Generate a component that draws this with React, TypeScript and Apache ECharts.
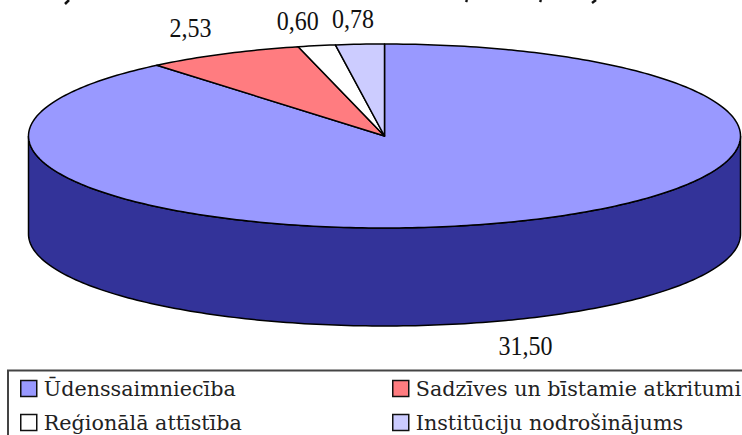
import React, { useEffect, useRef } from "react";
import * as echarts from "echarts";

const categories = ["Ūdenssaimniecība", "Sadzīves un bīstamie atkritumi", "Reģionālā attīstība", "Institūciju nodrošinājums"];
const values = [31.5, 2.53, 0.6, 0.78];
const topColors = ["#9999FF", "#FF7C80", "#FFFFFF", "#CCCCFF"];
const sideColors = ["#333399", "#993333", "#999999", "#666699"];

const CX = 384.5, CY = 136, RX = 356, RY = 92, DEPTH = 98;
const labelOffsets = [[20, 25], [-33, -26], [-19, -25], [-7, -25]];
const legendSpots = [[20, 378], [392, 378], [20, 412], [392, 412]];

const total = values.reduce((a, b) => a + b, 0);
const starts = values.map((_, i) => values.slice(0, i).reduce((a, b) => a + b, 0) / total * 360);

const pt = (deg: number, dy = 0) => {
  const r = (deg * Math.PI) / 180;
  return [CX + RX * Math.sin(r), CY - RY * Math.cos(r) + dy];
};
const arc = (a: number, b: number, dy = 0) => {
  const out: number[][] = [];
  const n = Math.max(2, Math.ceil(Math.abs(b - a)));
  for (let k = 0; k <= n; k++) out.push(pt(a + ((b - a) * k) / n, dy));
  return out;
};

const makeRender = (i: number) => (_p: any, api: any) => {
  const v = api.value(0);
  const a0 = starts[i];
  const a1 = a0 + (v / total) * 360;
  const children: any[] = [];
  const s0 = Math.max(a0, 90), s1 = Math.min(a1, 270);
  if (s1 > s0) {
    children.push({
      type: "polygon",
      shape: { points: [...arc(s0, s1), ...arc(s1, s0, DEPTH)] },
      style: { fill: sideColors[i], stroke: "#000", lineWidth: 1.5 },
    });
  }
  children.push({
    type: "polygon",
    shape: { points: [[CX, CY], ...arc(a0, a1)] },
    style: { fill: topColors[i], stroke: "#000", lineWidth: 1.5, lineJoin: "round" },
  });
  const mid = (a0 + a1) / 2;
  const [mx, my] = pt(mid, mid > 90 && mid < 270 ? DEPTH : 0);
  children.push({
    type: "text",
    x: mx + labelOffsets[i][0],
    y: my + labelOffsets[i][1],
    scaleY: 1.14,
    style: {
      text: v.toFixed(2).replace(".", ","),
      x: 0,
      y: 0,
      fill: "#111",
      fontFamily: "Liberation Serif",
      fontSize: 24,
      textAlign: "center",
      textVerticalAlign: "middle",
    },
  });
  return { type: "group", children };
};

export default function App() {
  const ref = useRef<HTMLDivElement>(null);
  useEffect(() => {
    document.body.style.margin = "0";
    const chart = echarts.init(ref.current!, undefined, { renderer: "svg" });
    chart.setOption({
      animation: false,
      backgroundColor: "#fff",
      legend: categories.map((name, i) => ({
        show: true,
        left: legendSpots[i][0],
        top: legendSpots[i][1],
        padding: 0,
        itemWidth: 16,
        itemHeight: 16,
        selectedMode: false,
        data: [{ name, icon: "rect", itemStyle: { color: topColors[i], borderColor: "#111", borderWidth: 1.5 } }],
        textStyle: { fontFamily: "DejaVu Serif", fontSize: 20.7, color: "#222", padding: [0, 0, 0, 2] },
      })),
      series: categories.map((name, i) => ({
        type: "custom",
        name,
        coordinateSystem: "none",
        clip: false,
        silent: true,
        itemStyle: { color: topColors[i] },
        renderItem: makeRender(i),
        data: [[values[i]]],
      })),
      graphic: [
        {
          type: "polyline",
          shape: { points: [[8, 435], [8, 370.5], [742, 370.5]] },
          style: { fill: "none", stroke: "#444", lineWidth: 2 },
        },
        ...[[[69, 0], [65, 4]], [[467, 0], [466, 2]], [[541, 0], [540, 2]], [[596, 0], [592, 3]]].map((pts) => ({
          type: "line",
          shape: { x1: pts[0][0], y1: pts[0][1], x2: pts[1][0], y2: pts[1][1] },
          style: { stroke: "#111", lineWidth: 2.5 },
        })),
      ],
    });
    return () => chart.dispose();
  }, []);
  return <div ref={ref} style={{ width: 742, height: 435 }} />;
}
